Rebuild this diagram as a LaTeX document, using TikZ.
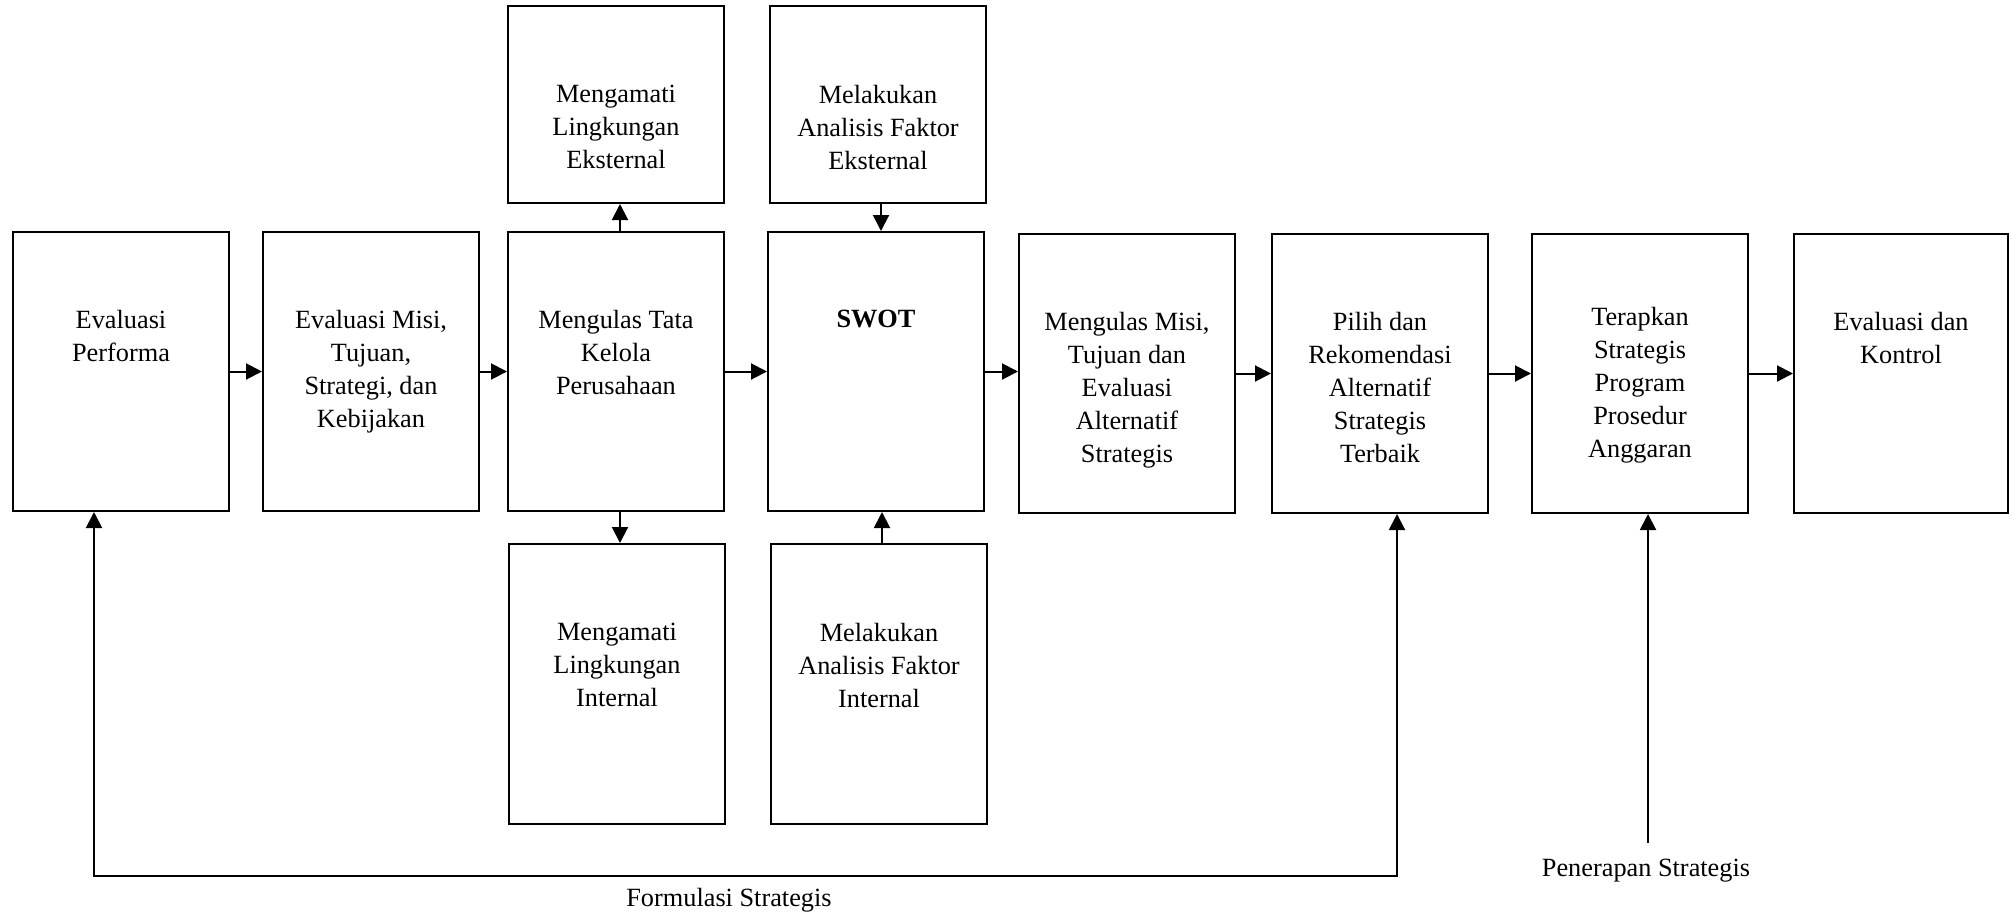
\documentclass[tikz,border=0pt]{standalone}
\usepackage{fontspec}
\setmainfont{Liberation Serif}
\usetikzlibrary{arrows.meta,calc}
\begin{document}
\begin{tikzpicture}[x=1pt,y=-1pt,
  box/.style={draw, line width=2pt, inner sep=0pt, anchor=north west, minimum width=216pt},
  mainbox/.style={box, minimum height=279pt},
  sidebox/.style={box, minimum height=197pt},
  lowbox/.style={box, minimum height=280pt},
  txt/.style={align=center, inner sep=0pt, anchor=north, font=\fontsize{26.3}{33}\selectfont},
  lbl/.style={inner sep=0pt, font=\fontsize{26.3}{33}\selectfont},
  tip/.tip={Triangle[length=16pt,width=16pt]},
  arr/.style={line width=2pt, -tip},
  every node/.style={font=\fontsize{26.3}{33}\selectfont}]
\useasboundingbox (0,0) rectangle (2013,914);

% main row
\node[mainbox] (b1) at (12,231) {};
\node[mainbox] (b2) at (262,231) {};
\node[mainbox] (b3) at (507,231) {};
\node[mainbox] (s)  at (767,231) {};
\node[mainbox] (b5) at (1018,233) {};
\node[mainbox] (b6) at (1271,233) {};
\node[mainbox] (b7) at (1531,233) {};
\node[mainbox, minimum width=214pt] (b8) at (1793,233) {};

% external and internal boxes
\node[sidebox] (t1) at (507,5) {};
\node[sidebox] (t2) at (769,5) {};
\node[lowbox] (d1) at (508,543) {};
\node[lowbox] (d2) at (770,543) {};

% box texts
\node[txt] (b1t) at ([yshift=-79pt]b1.north) {Evaluasi\\Performa};
\node[txt] (b2t) at ([yshift=-79pt]b2.north) {Evaluasi Misi,\\Tujuan,\\Strategi, dan\\Kebijakan};
\node[txt] (b3t) at ([yshift=-79pt]b3.north) {Mengulas Tata\\Kelola\\Perusahaan};
\node[txt] (st)  at ([yshift=-79pt]s.north) {\textbf{SWOT}};
\node[txt] (b5t) at ([yshift=-79pt]b5.north) {Mengulas Misi,\\Tujuan dan\\Evaluasi\\Alternatif\\Strategis};
\node[txt] (b6t) at ([yshift=-79pt]b6.north) {Pilih dan\\Rekomendasi\\Alternatif\\Strategis\\Terbaik};
\node[txt] (b7t) at ([yshift=-74pt]b7.north) {Terapkan\\Strategis\\Program\\Prosedur\\Anggaran};
\node[txt] (b8t) at ([yshift=-79pt]b8.north) {Evaluasi dan\\Kontrol};
\node[txt] (t1t) at ([yshift=-80pt]t1.north) {Mengamati\\Lingkungan\\Eksternal};
\node[txt] (t2t) at ([yshift=-80pt]t2.north) {Melakukan\\Analisis Faktor\\Eksternal};
\node[txt] (d1t) at ([yshift=-80pt]d1.north) {Mengamati\\Lingkungan\\Internal};
\node[txt] (d2t) at ([yshift=-80pt]d2.north) {Melakukan\\Analisis Faktor\\Internal};

% flow along the main row
\draw[arr] (b1.east) -- (b1.east -| b2.west);
\draw[arr] (b2.east) -- (b2.east -| b3.west);
\draw[arr] (b3.east) -- (b3.east -| s.west);
\draw[arr] (s.east)  -- (s.east -| b5.west);
\draw[arr] (b5.east) -- (b5.east -| b6.west);
\draw[arr] (b6.east) -- (b6.east -| b7.west);
\draw[arr] (b7.east) -- (b7.east -| b8.west);

% links to the environment scans
\coordinate (u1) at ($(b3.north)+(4,0)$);
\coordinate (u2) at ($(t2.south)+(3,0)$);
\coordinate (u3) at ($(b3.south)+(4,0)$);
\coordinate (u4) at ($(d2.north)+(3,0)$);
\draw[arr] (u1) -- (u1 |- t1.south);
\draw[arr] (u2) -- (u2 |- s.north);
\draw[arr] (u3) -- (u3 |- d1.north);
\draw[arr] (u4) -- (u4 |- s.south);

% formulation feedback loop
\coordinate (f1) at (94,876);
\coordinate (f2) at (1397,876);
\draw[line width=2pt, tip-tip] (f1 |- b1.south) -- (f1) -- (f2) -- (f2 |- b6.south);
\node[lbl] (form) at (729,900) {Formulasi Strategis};

% implementation
\coordinate (p1) at (1648,843);
\draw[arr] (p1) -- (p1 |- b7.south);
\node[lbl] (pen) at (1646,871) {Penerapan Strategis};
\end{tikzpicture}
\end{document}
